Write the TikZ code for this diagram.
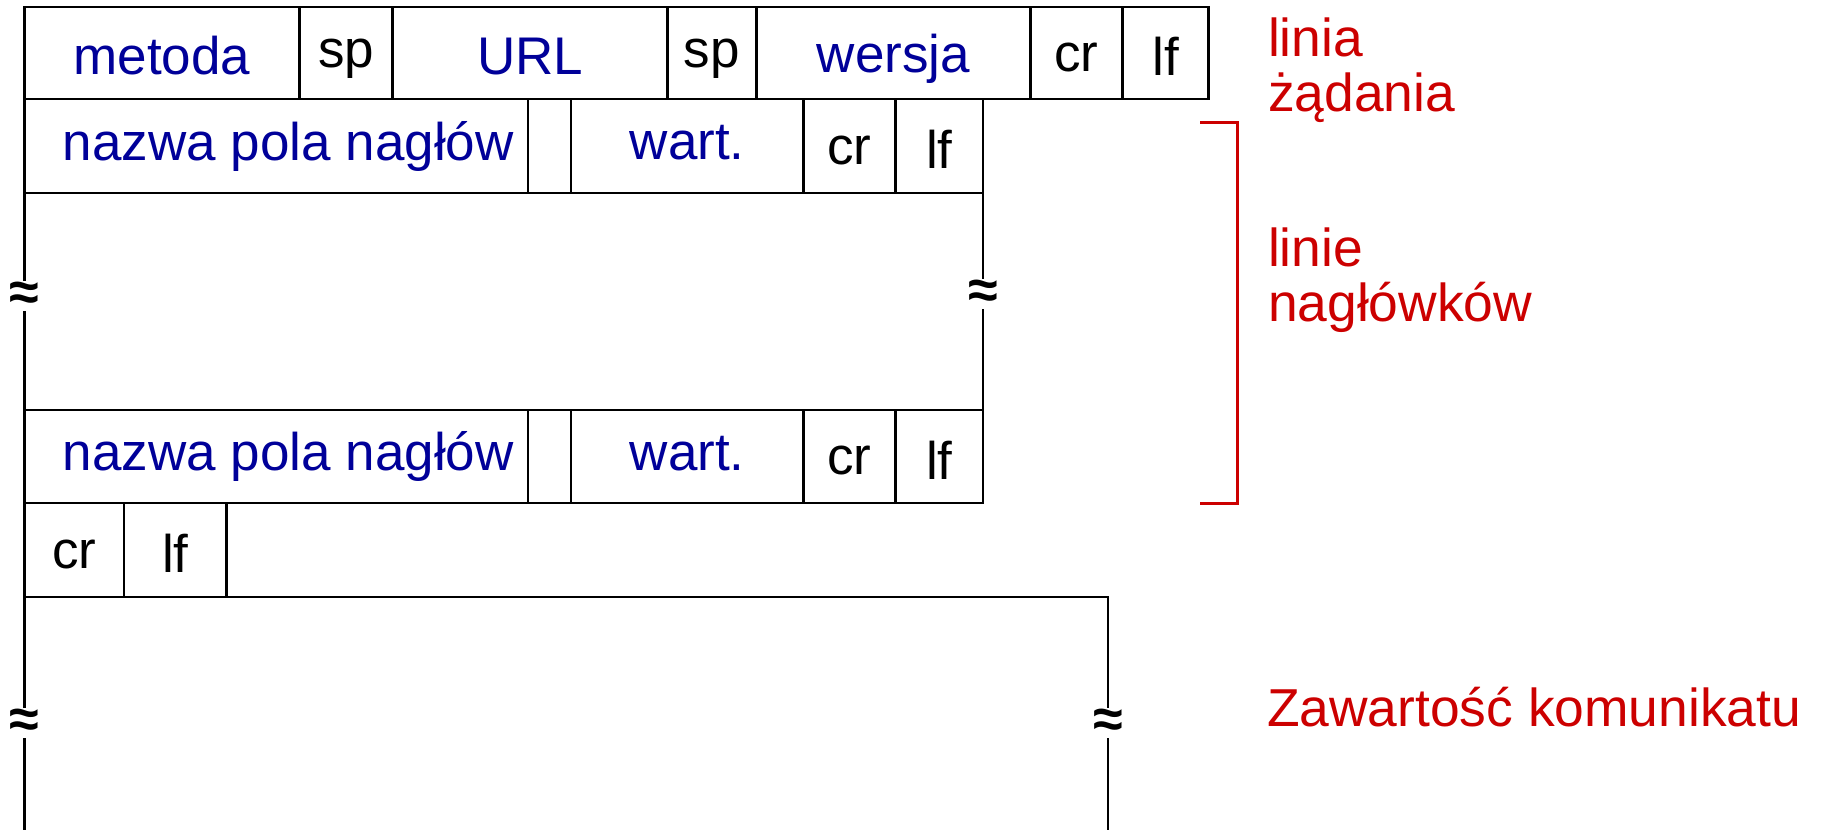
\documentclass[tikz,border=0pt]{standalone}
\usepackage{fontspec}
\setmainfont{Liberation Sans}
\definecolor{fblue}{RGB}{0,0,153}
\definecolor{fred}{RGB}{204,0,0}
\tikzset{
  cell/.style={draw=black, line width=1.4pt, anchor=north west, inner sep=0pt, outer sep=0pt,
    font=\fontsize{26.5}{27}\selectfont},
  bl/.style={text=fblue},
  bk/.style={text=black},
  bl22/.style={text=fblue, text height=22pt, text depth=0pt},
  bl19/.style={text=fblue, text height=24pt, text depth=5pt},
  blw/.style={text=fblue, text height=13.5pt, text depth=0pt},
  spt/.style={text=black, text height=20pt, text depth=5pt},
  crt/.style={text=black, text height=18pt, text depth=0pt},
  lft/.style={text=black, text height=22.5pt, text depth=0pt},
  lbl/.style={text=fred, inner sep=0pt, outer sep=0pt, align=left, font=\fontsize{26.7}{27.5}\selectfont},
  brk/.style={fill=white, inner sep=0.3pt, font=\fontsize{27}{27}\selectfont\bfseries},
  ln/.style={line width=1.4pt, draw=black},
}
\begin{document}
\begin{tikzpicture}[x=0.5pt, y=-0.5pt]
\useasboundingbox (0,0) rectangle (1827,830);
% row 1: request line
\node[cell,bl22,minimum width=137.5pt,minimum height=46pt] (m)  at (24.5,7) {metoda};
\node[cell,spt,minimum width=46.6pt,minimum height=46pt]  (s1) at (299.5,7) {sp};
\node[cell,bl22,minimum width=137.5pt,minimum height=46pt] (u)  at (392.7,7) {URL};
\node[cell,spt,minimum width=44.25pt,minimum height=46pt] (s2) at (667.7,7) {sp};
\node[cell,bl19,minimum width=137.15pt,minimum height=46pt] (w) at (756.2,7) {wersja};
\node[cell,crt,minimum width=46pt,minimum height=46pt]    (c1) at (1030.5,7) {cr};
\node[cell,lft,minimum width=43pt,minimum height=46pt]    (l1) at (1122.5,7) {lf};
% row 2: header line
\node[cell,bl,minimum width=251.75pt,minimum height=47pt] (ha) at (24.5,99) {\hspace{12pt}nazwa pola nagłów};
\node[cell,minimum width=21.5pt,minimum height=47pt]      (hb) at (528,99) {};
\node[cell,blw,minimum width=116.25pt,minimum height=47pt] (hc) at (571,99) {wart.\hspace{9pt}};
\node[cell,crt,minimum width=46pt,minimum height=47pt]     (hd) at (803.5,99) {cr};
\node[cell,lft,minimum width=43.75pt,minimum height=47pt]  (he) at (895.5,99) {lf};
% row 3: header line
\node[cell,bl,minimum width=251.75pt,minimum height=46.5pt] (ga) at (24.5,410) {\hspace{12pt}nazwa pola nagłów};
\node[cell,minimum width=21.5pt,minimum height=46.5pt]      (gb) at (528,410) {};
\node[cell,blw,minimum width=116.25pt,minimum height=46.5pt] (gc) at (571,410) {wart.\hspace{9pt}};
\node[cell,crt,minimum width=46pt,minimum height=46.5pt]     (gd) at (803.5,410) {cr};
\node[cell,lft,minimum width=43.75pt,minimum height=46.5pt]  (ge) at (895.5,410) {lf};
% row 4: empty line
\node[cell,crt,minimum width=49.75pt,minimum height=47pt] (ea) at (24.5,503) {cr};
\node[cell,lft,minimum width=51.25pt,minimum height=47pt] (eb) at (124,503) {lf};
% gap between header lines
\draw[ln] (ha.south west) -- (ga.north west);
\draw[ln] (he.south east) -- (ge.north east);
\node[brk] (z1) at (24.5,296) {≈};
\node[brk] (z2) at (983,294) {≈};
% body
\coordinate (btl) at (24.5,830);
\coordinate (btr) at (1108,830);
\coordinate (tpr) at (1108,597);
\draw[ln] (btl) -- (ea.south west) -- (tpr) -- (btr);
\node[brk] (z3) at (24.5,723) {≈};
\node[brk] (z4) at (1108,723) {≈};
% bracket
\coordinate (k1) at (1200,122);
\coordinate (k2) at (1237,122);
\coordinate (k3) at (1237,503);
\coordinate (k4) at (1200,503);
\draw[fred, line width=1.5pt] (k1) -- (k2) -- (k3) -- (k4);
% labels
\node[lbl, anchor=north west] (t1) at (1268,18) {linia\\żądania};
\node[lbl, anchor=north west] (t2) at (1268,228) {linie\\nagłówków};
\node[lbl, anchor=base west] (t3) at (1267,726) {Zawartość komunikatu};
\end{tikzpicture}
\end{document}
